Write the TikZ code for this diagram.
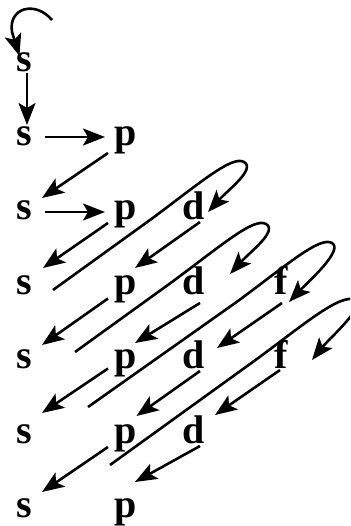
\documentclass[tikz,border=0pt]{standalone}
\usepackage{fontspec}
\setmainfont{Liberation Serif}
\usetikzlibrary{arrows.meta, calc}
\tikzset{
  orb/.style = {anchor=base, inner sep=0pt,
                font=\bfseries\fontsize{40}{40}\selectfont},
  fl/.style  = {-{Stealth[length=22pt, width=17pt, inset=5pt]},
                line width=2.6pt},
}
\begin{document}
\begin{tikzpicture}[x=1pt, y=-1pt]
  \clip (0,0) rectangle (350,526);
  % sub-shells, one row per shell
  \node[orb] (s1) at (24.5,72) {s};
  \node[orb] (s2) at (24.5,146) {s};
  \node[orb] (p2) at (125.5,146) {p};
  \node[orb] (s3) at (24.5,220) {s};
  \node[orb] (p3) at (125.5,220) {p};
  \node[orb] (d3) at (194,220) {d};
  \node[orb] (s4) at (24.5,294.5) {s};
  \node[orb] (p4) at (125.5,294.5) {p};
  \node[orb] (d4) at (194,294.5) {d};
  \node[orb] (f4) at (281,294.5) {f};
  \node[orb] (s5) at (24.5,368.5) {s};
  \node[orb] (p5) at (125.5,368.5) {p};
  \node[orb] (d5) at (194,368.5) {d};
  \node[orb] (f5) at (281,368.5) {f};
  \node[orb] (s6) at (24.5,443) {s};
  \node[orb] (p6) at (125.5,443) {p};
  \node[orb] (d6) at (194,443) {d};
  \node[orb] (s7) at (24.5,517) {s};
  \node[orb] (p7) at (125.5,517) {p};

  % filling order
  \draw[fl] ($(s1.base)+(27.5,-52)$) .. controls (35,0) and (8,8) .. (12,32)
            -- ($(s1.base)+(-5,-16)$);
  \draw[fl] ($(s1.base)+(2.5,1)$) -- ($(s2.base)+(2.5,-21)$);
  \draw[fl] ($(s2.base)+(20.5,-9)$) -- ($(p2.base)+(-20.5,-9)$);
  \draw[fl] ($(p2.base)+(-17.5,7)$) -- ($(s3.base)+(17.5,-22)$);
  \draw[fl] ($(s3.base)+(20.5,-8)$) -- ($(p3.base)+(-20.5,-8)$);
  \draw[fl] ($(p3.base)+(-17.5,3)$) -- ($(s4.base)+(18.5,-26.5)$);
  \draw[fl] ($(s4.base)+(28.5,-4.5)$) -- (150,220)
            .. controls (200,183) and (232,155) .. (244,162)
            .. controls (256,169) and (228,190) .. ($(d3.base)+(14,-8)$);
  \draw[fl] ($(d3.base)+(6,2)$) -- ($(p4.base)+(9.5,-26.5)$);
  \draw[fl] ($(p4.base)+(-17.5,4)$) -- ($(s5.base)+(17.5,-23.5)$);
  \draw[fl] ($(s5.base)+(50.5,-16.5)$) -- (172,282)
            .. controls (222,245) and (254,217) .. (266,224)
            .. controls (278,231) and (250,252) .. ($(d4.base)+(36,-20.5)$);
  \draw[fl] ($(d4.base)+(6,8.5)$) -- ($(p5.base)+(9.5,-25.5)$);
  \draw[fl] ($(p5.base)+(-17.5,0)$) -- ($(s6.base)+(17.5,-30)$);
  \draw[fl] ($(s6.base)+(63.5,-36)$) -- (238,301)
            .. controls (288,264) and (320,236) .. (332,243)
            .. controls (344,250) and (308,282) .. ($(f4.base)+(8,7.5)$);
  \draw[fl] ($(f4.base)+(1,8.5)$) -- ($(d5.base)+(23,-20.5)$);
  \draw[fl] ($(d5.base)+(6,2.5)$) -- ($(p6.base)+(11,-27)$);
  \draw[fl] ($(p6.base)+(-17.5,4)$) -- ($(s7.base)+(17.5,-25)$);
  \draw[fl] ($(s7.base)+(85.5,-52)$) -- (250,364)
            .. controls (300,328) and (340,292) .. (356,300)
            .. controls (366,306) and (328,340) .. ($(f5.base)+(31,-8.5)$);
  \draw[fl] ($(f5.base)+(-1,1.5)$) -- ($(d6.base)+(21,-28)$);
  \draw[fl] ($(d6.base)+(6,3)$) -- ($(p7.base)+(9.5,-35)$);
\end{tikzpicture}
\end{document}
